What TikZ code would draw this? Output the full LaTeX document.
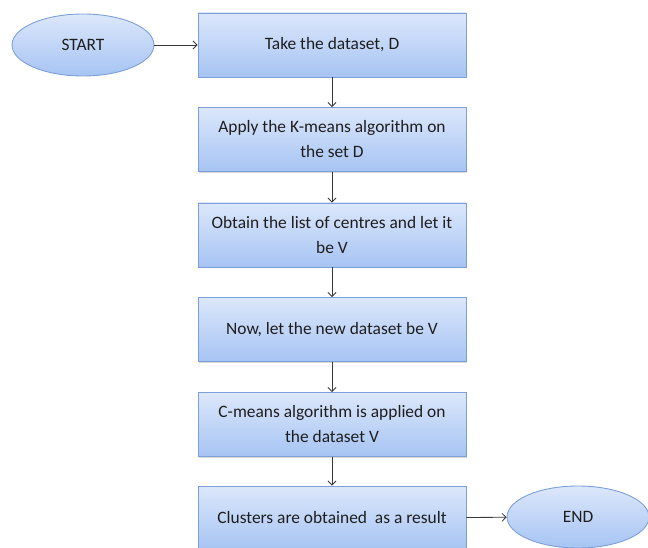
\documentclass[tikz,border=0pt]{standalone}
\usepackage{fontspec}
\setmainfont{Carlito}
\usetikzlibrary{arrows.meta,shadows,shapes.geometric}
\definecolor{fillTop}{HTML}{DCE7FB}
\definecolor{fillBot}{HTML}{A6C4F3}
\definecolor{edgeBlue}{HTML}{7C9FD9}
\definecolor{lineGray}{HTML}{3A3A3A}
\definecolor{textGray}{HTML}{1E1E1E}
\tikzset{
  procbox/.style={draw=edgeBlue, line width=0.9pt, top color=fillTop, bottom color=fillBot,
    minimum width=268pt, minimum height=64pt, align=center, text=textGray,
    font=\fontsize{17.4}{25}\selectfont, inner sep=0pt,
    drop shadow={shadow xshift=1pt, shadow yshift=-1.2pt, opacity=0.3}},
  termnode/.style={ellipse, draw=edgeBlue, line width=0.9pt, top color=fillTop, bottom color=fillBot,
    minimum width=142pt, minimum height=62pt, inner sep=0pt, text=textGray,
    font=\fontsize{17.4}{20}\selectfont},
  flow/.style={draw=lineGray, line width=0.8pt, -{Straight Barb[length=4pt,width=8pt]}}
}
\begin{document}
\begin{tikzpicture}[x=1pt,y=-1pt]
  \useasboundingbox (0,0) rectangle (648,548);
  \clip (0,0) rectangle (648,548);
  \node[termnode] (start) at (83,45) {START};
  \node[procbox] (b1) at (332,45) {Take the dataset, D};
  \node[procbox] (b2) at (332,139.5) {Apply the K-means algorithm on\\the set D};
  \node[procbox] (b3) at (332,235) {Obtain the list of centres and let it\\be V};
  \node[procbox] (b4) at (332,329.5) {Now, let the new dataset be V};
  \node[procbox] (b5) at (332,424.5) {C-means algorithm is applied on\\the dataset V};
  \node[procbox] (b6) at (332,518) {Clusters are obtained \ as a result};
  \node[termnode] (stop) at (578,517) {END};
  \draw[flow] (start) -- (b1);
  \draw[flow] (b1) -- (b2);
  \draw[flow] (b2) -- (b3);
  \draw[flow] (b3) -- (b4);
  \draw[flow] (b4) -- (b5);
  \draw[flow] (b5) -- (b6);
  \draw[flow] (b6) -- (stop);
\end{tikzpicture}
\end{document}
